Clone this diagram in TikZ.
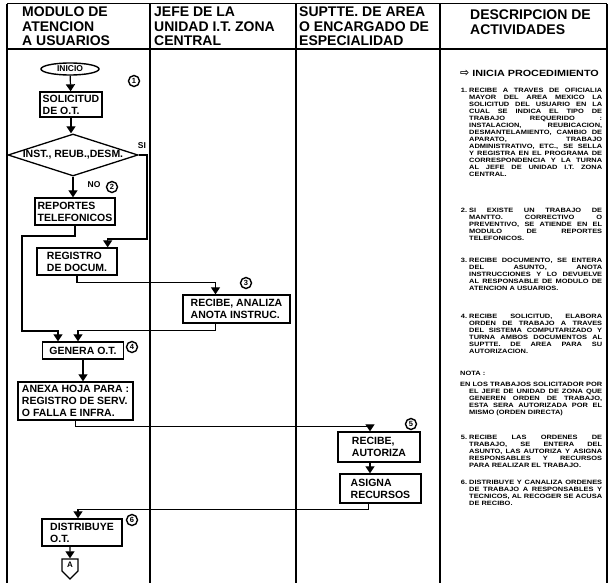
\documentclass[tikz,border=0pt]{standalone}
\usepackage{fontspec}
\setmainfont{Liberation Sans}
\newfontfamily\descfont[FakeStretch=1.2]{Liberation Sans}
\newfontfamily\symfont{DejaVu Sans}
\usetikzlibrary{arrows.meta,shapes.geometric,shapes.symbols,positioning}
\hbadness=10000

\begin{document}
\begin{tikzpicture}[x=1pt,y=-1pt,
	box/.style={draw,line width=1.3pt,align=left,inner sep=2pt,font=\bfseries\fontsize{10.5}{12}\selectfont},
	flow/.style={line width=1.2pt,-{Triangle[width=9pt,length=7pt]}},
	num/.style={circle,draw,line width=1.4pt,inner sep=0pt,minimum size=11pt,font=\bfseries\fontsize{7.5}{7.5}\selectfont},
	tag/.style={font=\bfseries\fontsize{8.5}{8.5}\selectfont,inner sep=0pt},
	head/.style={anchor=north west,align=left,inner sep=0pt,font=\bfseries\fontsize{14}{14.5}\selectfont},
	desc/.style={anchor=north west,text width=133pt,align=justify,inner sep=0pt,font=\descfont\bfseries\fontsize{6.2}{7}\selectfont}]
	\useasboundingbox (0,0) rectangle (611,583);
	% frame
	\draw[line width=1pt] (7,4) -- (607,4);
	\draw[line width=1.2pt] (7,49) -- (607,49);
	\draw[line width=2.2pt] (7,4) -- (7,583);
	\draw[line width=1.2pt] (150,4) -- (150,583) (296,4) -- (296,583) (440,4) -- (440,583) (607,4) -- (607,583);
	\node[head] (h1) at (22,7) {MODULO DE\\ATENCION\\A USUARIOS};
	\node[head] (h2) at (154,7) {JEFE DE LA\\UNIDAD I.T. ZONA\\CENTRAL};
	\node[head] (h3) at (299,7) {SUPTTE. DE AREA\\O ENCARGADO DE\\ESPECIALIDAD};
	\node[head] (h4) at (470,10) {DESCRIPCION DE\\ACTIVIDADES};
	% flow
	\node[ellipse,draw,line width=1.4pt,minimum width=58pt,minimum height=12pt,inner sep=0pt,font=\bfseries\fontsize{8.5}{8.5}\selectfont] (inicio) at (70,69) {INICIO};
	\node[box,minimum width=62pt,minimum height=25pt] (solicitud) at (71,104.5) {SOLICITUD\\DE O.T.};
	\node[diamond,draw,line width=1.3pt,minimum width=130pt,minimum height=42pt,inner sep=0pt] (decision) at (73,155) {};
	\node[font=\bfseries\fontsize{10.5}{11}\selectfont,inner sep=0pt] (decisiontext) at (decision) {INST., REUB.,DESM.};
	\node[box,minimum width=80pt,minimum height=27pt] (reportes) at (75,211.5) {REPORTES\\TELEFONICOS};
	\node[box,minimum width=80pt,minimum height=27pt] (registro) at (77,261.5) {REGISTRO\\DE DOCUM.};
	\node[box,minimum width=107pt,minimum height=28pt] (recibeA) at (236.5,309) {RECIBE, ANALIZA\\ANOTA INSTRUC.};
	\node[box,minimum width=81pt,minimum height=17pt] (genera) at (83,350.5) {GENERA O.T.};
	\node[box,minimum width=115pt,minimum height=38pt] (anexa) at (75.5,401) {ANEXA HOJA PARA :\\REGISTRO DE SERV.\\O FALLA E INFRA.};
	\node[box,minimum width=82pt,minimum height=30pt] (recibeB) at (379,447) {RECIBE,\\AUTORIZA};
	\node[box,minimum width=81pt,minimum height=29pt] (asigna) at (380.5,488.5) {ASIGNA\\RECURSOS};
	\node[box,minimum width=80pt,minimum height=27pt] (distribuye) at (82,532.5) {DISTRIBUYE\\O.T.};
	\node[signal,signal to=south,draw,line width=1.2pt,minimum width=16pt,minimum height=16pt,inner sep=1pt,font=\bfseries\fontsize{8}{8}\selectfont] (conA) at (70,565) {A};
	\node[num] (n1) at (134,81) {1};
	\node[num] (n2) at (112,187) {2};
	\node[num] (n3) at (246,283) {3};
	\node[num] (n4) at (132,347) {4};
	\node[num] (n5) at (411,424) {5};
	\node[num] (n6) at (132,520) {6};
	\node[tag] (si) at (142,146) {SI};
	\node[tag] (no) at (94,185) {NO};
	\coordinate (sibend) at (147,239);
	\coordinate (telbend) at (22,236);
	\coordinate (telrun) at (22,331);
	\draw[flow] (inicio) -- (solicitud);
	\draw[flow] (solicitud.south) -- (solicitud.south |- decision.north);
	\draw[flow] (decision.east) -| (sibend) -| ([xshift=-10pt]registro.north east);
	\draw[flow] (decision.south) -- (decision.south |- reportes.north);
	\draw[flow] (reportes.south) |- (telbend) -- (telrun) -| ([xshift=-25pt]genera.north);
	\draw[flow] (registro.south) -- ++(0,7) -| ([xshift=-21pt]recibeA.north);
	\draw[flow] ([xshift=-21pt]recibeA.south) -- ++(0,7) -| ([xshift=-5pt]genera.north);
	\draw[flow] (genera.south) -- (genera.south |- anexa.north);
	\draw[flow] (anexa.south) -- ++(0,6) -| ([xshift=-9pt]recibeB.north);
	\draw[flow] ([xshift=-9pt]recibeB.south) -- ([xshift=-9pt]recibeB.south |- asigna.north);
	\draw[flow] ([xshift=-12pt]asigna.south) -- ++(0,6) -| ([xshift=-4pt]distribuye.north);
	\draw[flow] ([xshift=-12pt]distribuye.south) -- (conA);
	% descripcion
	\node[font=\descfont\bfseries\fontsize{9}{9}\selectfont,anchor=west,inner sep=0pt] (inicia) at (460,73) {{\symfont\fontsize{11}{11}\selectfont ⇨} INICIA PROCEDIMIENTO};
	\node[desc] (p1) at (469,88) {\leavevmode\llap{1.\hspace{2pt}}RECIBE A TRAVES DE OFICIALIA\linebreak MAYOR DEL AREA MEXICO LA\linebreak SOLICITUD DEL USUARIO EN LA\linebreak CUAL SE INDICA EL TIPO DE\linebreak TRABAJO REQUERIDO :\linebreak INSTALACION, REUBICACION,\linebreak DESMANTELAMIENTO, CAMBIO DE\linebreak APARATO, TRABAJO\linebreak ADMINISTRATIVO, ETC., SE SELLA\linebreak Y REGISTRA EN EL PROGRAMA DE\linebreak CORRESPONDENCIA Y LA TURNA\linebreak AL JEFE DE UNIDAD I.T. ZONA\linebreak CENTRAL.};
	\node[desc] (p2) at (469,208) {\leavevmode\llap{2.\hspace{2pt}}SI EXISTE UN TRABAJO DE\linebreak MANTTO. CORRECTIVO O\linebreak PREVENTIVO, SE ATIENDE EN EL\linebreak MODULO DE REPORTES\linebreak TELEFONICOS.};
	\node[desc] (p3) at (469,258) {\leavevmode\llap{3.\hspace{2pt}}RECIBE DOCUMENTO, SE ENTERA\linebreak DEL ASUNTO, ANOTA\linebreak INSTRUCCIONES Y LO DEVUELVE\linebreak AL RESPONSABLE DE MODULO DE\linebreak ATENCION A USUARIOS.};
	\node[desc] (p4) at (469,314) {\leavevmode\llap{4.\hspace{2pt}}RECIBE SOLICITUD, ELABORA\linebreak ORDEN DE TRABAJO A TRAVES\linebreak DEL SISTEMA COMPUTARIZADO Y\linebreak TURNA AMBOS DOCUMENTOS AL\linebreak SUPTTE. DE AREA PARA SU\linebreak AUTORIZACION.};
	\node[desc] (nota) at (460,371) {NOTA :};
	\node[desc] (pnota) at (469,382) {\leavevmode\hspace*{-9pt}EN LOS TRABAJOS SOLICITADOR POR\linebreak EL JEFE DE UNIDAD DE ZONA QUE\linebreak GENEREN ORDEN DE TRABAJO,\linebreak ESTA SERA AUTORIZADA POR EL\linebreak MISMO (ORDEN DIRECTA)};
	\node[desc] (p5) at (469,435) {\leavevmode\llap{5.\hspace{2pt}}RECIBE LAS ORDENES DE\linebreak TRABAJO, SE ENTERA DEL\linebreak ASUNTO, LAS AUTORIZA Y ASIGNA\linebreak RESPONSABLES Y RECURSOS\linebreak PARA REALIZAR EL TRABAJO.};
	\node[desc] (p6) at (469,480) {\leavevmode\llap{6.\hspace{2pt}}DISTRIBUYE Y CANALIZA ORDENES\linebreak DE TRABAJO A RESPONSABLES Y\linebreak TECNICOS, AL RECOGER SE ACUSA\linebreak DE RECIBO.};
\end{tikzpicture}
\end{document}
